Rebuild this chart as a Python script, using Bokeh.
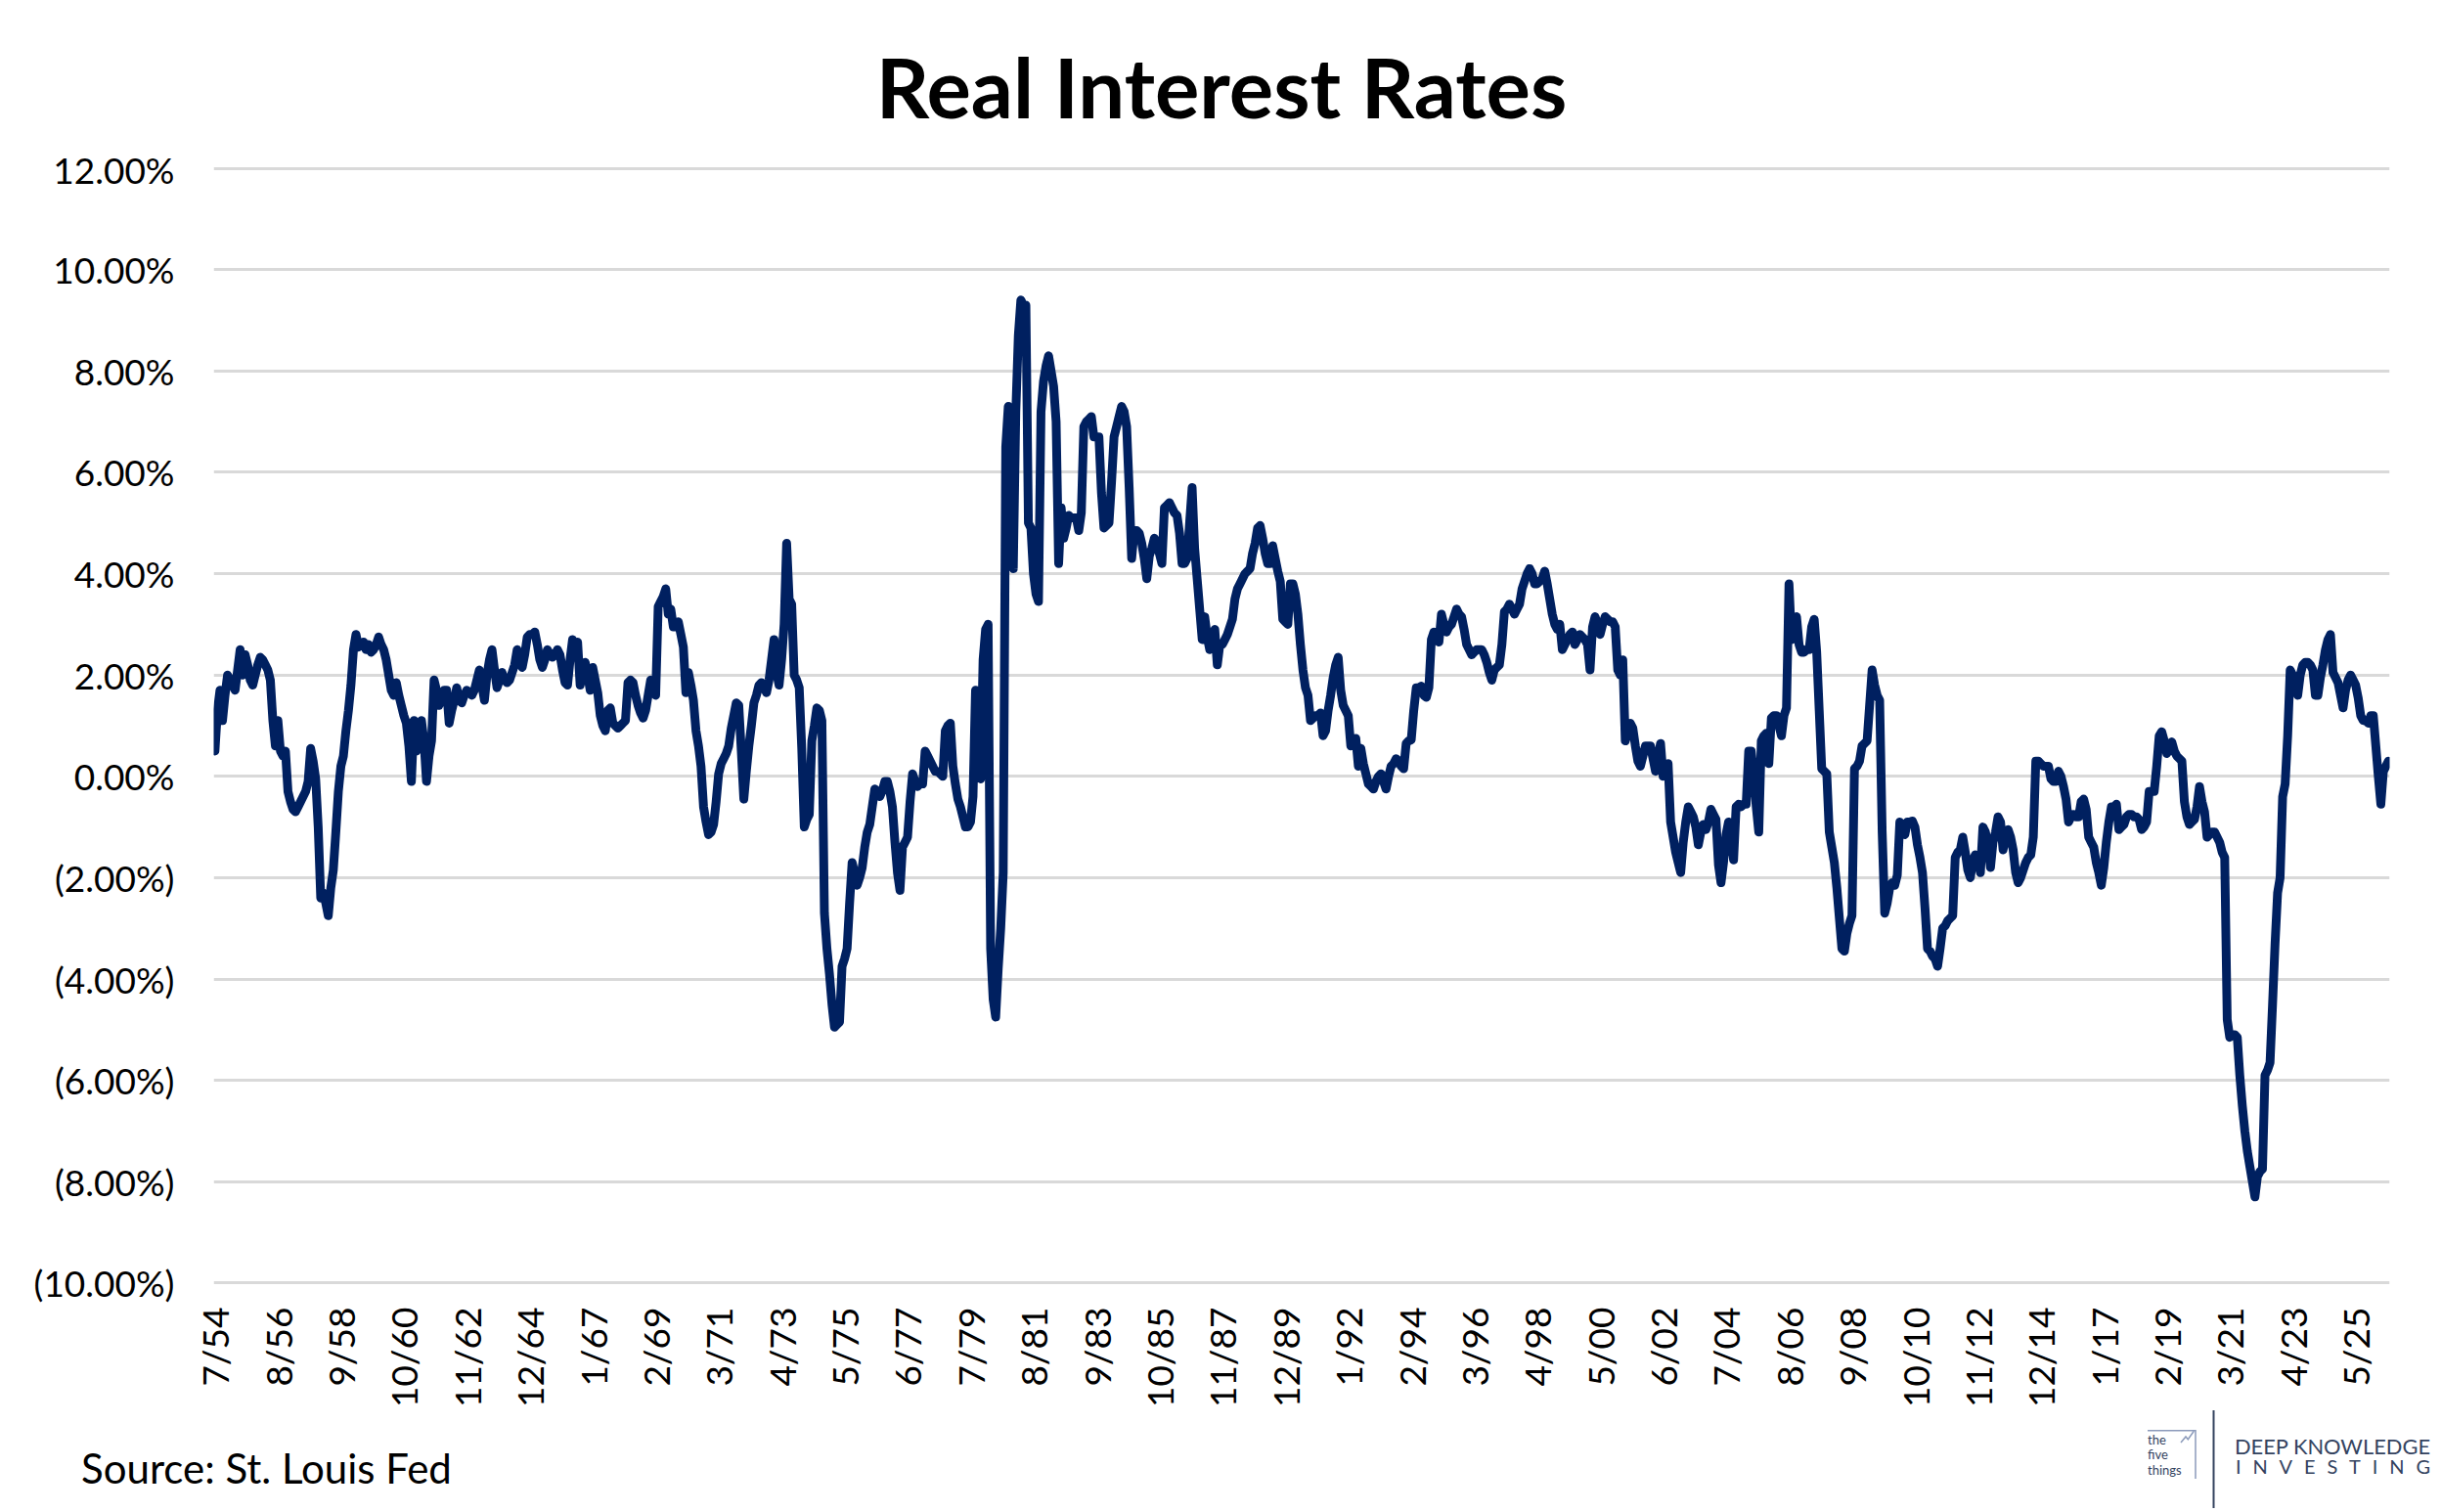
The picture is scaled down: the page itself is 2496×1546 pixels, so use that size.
import math

from bokeh.plotting import figure
from bokeh.layouts import column
from bokeh.embed import file_html
from bokeh.resources import INLINE
from bokeh.models import ColumnDataSource, FixedTicker, Range1d, Div

# Real interest rate (%), monthly from 7/54
real_rate = [
    0.5, 1.3, 1.7, 1.1, 1.6, 2.0,                                          # 1954 (Jul-Dec)
    1.9, 1.8, 1.7, 2.1, 2.5, 2.0, 2.4, 2.2, 1.9, 1.8, 2.0, 2.2,            # 1955
    2.35, 2.3, 2.2, 2.1, 1.9, 1.1, 0.6, 1.1, 0.5, 0.4, 0.5, -0.3,          # 1956
    -0.5, -0.65, -0.7, -0.6, -0.5, -0.4, -0.3, -0.1, 0.55, 0.3, -0.05, -1.0,
    -2.4, -2.3, -2.5, -2.75, -2.2, -1.85, -1.1, -0.3, 0.2, 0.4, 0.9, 1.3,  # 1958
    1.8, 2.5, 2.8, 2.55, 2.6, 2.65, 2.5, 2.6, 2.45, 2.5, 2.6, 2.75,
    2.6, 2.5, 2.3, 2.0, 1.7, 1.6, 1.85, 1.6, 1.4, 1.2, 1.05, 0.6,          # 1960
    -0.1, 1.1, 0.5, 0.6, 1.1, 0.7, -0.1, 0.4, 0.7, 1.9, 1.7, 1.4,
    1.6, 1.7, 1.7, 1.05, 1.3, 1.5, 1.75, 1.5, 1.45, 1.6, 1.7, 1.65,
    1.6, 1.7, 1.9, 2.1, 1.8, 1.5, 2.0, 2.3, 2.5, 2.1, 1.75, 1.9,
    2.05, 1.9, 1.85, 1.9, 2.05, 2.2, 2.5, 2.3, 2.15, 2.4, 2.75, 2.8,       # 1964
    2.8, 2.85, 2.6, 2.3, 2.15, 2.3, 2.5, 2.4, 2.35, 2.4, 2.5, 2.4,
    2.1, 1.85, 1.8, 2.3, 2.7, 2.55, 2.65, 1.8, 2.0, 2.25, 2.0, 1.7,
    2.15, 1.9, 1.65, 1.2, 1.0, 0.9, 1.3, 1.35, 1.05, 1.0, 0.95, 1.0,
    1.05, 1.1, 1.85, 1.9, 1.85, 1.6, 1.4, 1.25, 1.15, 1.3, 1.6, 1.9,       # 1968
    1.75, 1.6, 3.35, 3.45, 3.55, 3.7, 3.2, 3.3, 2.95, 2.95, 3.05, 2.8,
    2.55, 1.65, 2.05, 1.8, 1.5, 0.9, 0.6, 0.2, -0.6, -0.9, -1.15, -1.1,    # 1970
    -0.95, -0.5, 0.05, 0.25, 0.35, 0.45, 0.6, 0.95, 1.2, 1.45, 1.4, 0.5,
    -0.45, 0.1, 0.6, 1.0, 1.45, 1.6, 1.8, 1.85, 1.75, 1.65, 1.9, 2.3,
    2.7, 2.05, 1.8, 2.3, 3.0, 4.6, 3.5, 3.4, 2.0, 1.9, 1.75, 0.55,         # 1973
    -1.0, -0.85, -0.75, 0.7, 1.0, 1.35, 1.3, 1.1, -2.7, -3.4, -3.9, -4.5,
    -4.95, -4.9, -4.85, -3.75, -3.6, -3.4, -2.5, -1.7, -1.9, -2.15, -2.0, -1.8,
    -1.4, -1.1, -0.95, -0.6, -0.25, -0.3, -0.4, -0.28, -0.1, -0.1, -0.3, -0.6,
    -1.3, -1.9, -2.25, -1.4, -1.3, -1.2, -0.5, 0.05, -0.1, -0.2, -0.15, -0.15,
    0.5, 0.4, 0.3, 0.2, 0.1, 0.1, 0.05, 0.0, 0.9, 1.0, 1.05, 0.2,          # 1978
    -0.15, -0.45, -0.6, -0.8, -1.0, -1.0, -0.9, -0.4, 1.7, 0.5, -0.05, 2.3,
    2.9, 3.0, -3.4, -4.4, -4.75, -3.8, -3.0, -1.9, 6.5, 7.3, 5.5, 4.1,     # 1980
    7.2, 8.7, 9.4, 9.3, 9.3, 5.0, 4.9, 4.0, 3.6, 3.45, 7.2, 7.8,
    8.1, 8.3, 8.0, 7.7, 7.0, 4.2, 5.3, 4.7, 4.9, 5.15, 5.1, 5.1,
    5.1, 4.85, 5.2, 6.9, 7.0, 7.05, 7.1, 6.7, 6.7, 6.7, 5.6, 4.9,
    4.95, 5.0, 5.8, 6.7, 6.9, 7.1, 7.3, 7.2, 6.9, 5.7, 4.3, 4.85,          # 1984
    4.85, 4.8, 4.6, 4.3, 3.9, 4.35, 4.5, 4.7, 4.6, 4.4, 4.2, 5.3,
    5.35, 5.4, 5.3, 5.2, 5.15, 4.8, 4.2, 4.2, 4.3, 5.0, 5.7, 4.5,
    3.9, 3.3, 2.7, 3.15, 2.75, 2.5, 2.7, 2.9, 2.2, 2.6, 2.6, 2.7,
    2.8, 2.95, 3.1, 3.5, 3.7, 3.8, 3.9, 4.0, 4.05, 4.1, 4.4, 4.6,          # 1988
    4.9, 4.95, 4.7, 4.4, 4.2, 4.2, 4.55, 4.3, 4.05, 3.85, 3.1, 3.05,
    3.0, 3.8, 3.8, 3.6, 3.2, 2.6, 2.1, 1.75, 1.6, 1.1, 1.15, 1.2,          # 1990
    1.2, 1.25, 0.8, 0.9, 1.3, 1.6, 1.95, 2.2, 2.35, 1.7, 1.4, 1.3,
    1.2, 0.6, 0.7, 0.75, 0.2, 0.55, 0.25, 0.05, -0.15, -0.2, -0.25, -0.1,
    0.0, 0.05, -0.1, -0.25, 0.0, 0.2, 0.25, 0.35, 0.3, 0.2, 0.15, 0.65,
    0.7, 0.72, 1.3, 1.75, 1.75, 1.78, 1.6, 1.56, 1.75, 2.7, 2.85, 2.75,    # 1994
    2.65, 3.2, 3.0, 2.85, 2.95, 3.0, 3.15, 3.3, 3.2, 3.15, 2.9, 2.6,
    2.5, 2.4, 2.45, 2.5, 2.5, 2.5, 2.4, 2.25, 2.05, 1.9, 2.1, 2.15,
    2.2, 2.6, 3.25, 3.3, 3.4, 3.3, 3.2, 3.3, 3.4, 3.7, 3.85, 4.0,
    4.1, 4.0, 3.8, 3.8, 3.85, 3.9, 4.05, 3.8, 3.5, 3.2, 3.0, 2.9,          # 1998
    3.0, 2.5, 2.6, 2.7, 2.8, 2.85, 2.6, 2.7, 2.8, 2.75, 2.7, 2.6,
    2.1, 2.95, 3.15, 3.0, 2.8, 3.0, 3.15, 3.1, 3.05, 3.05, 2.95, 2.1,      # 2000
    2.0, 2.3, 0.7, 0.9, 1.05, 0.95, 0.6, 0.3, 0.2, 0.4, 0.6, 0.6,
    0.6, 0.35, 0.1, 0.4, 0.65, 0.0, 0.1, 0.25, -0.9, -1.2, -1.5, -1.7,
    -1.9, -1.3, -0.9, -0.6, -0.7, -0.8, -1.0, -1.35, -1.1, -0.95, -1.05, -0.9,
    -0.65, -0.75, -0.85, -1.75, -2.1, -1.7, -1.15, -0.9, -1.2, -1.65, -0.6, -0.55,
    -0.6, -0.55, -0.55, 0.5, 0.5, 0.0, -0.6, -1.1, 0.7, 0.8, 0.85, 0.25,   # 2005
    1.15, 1.2, 1.2, 1.0, 0.8, 1.2, 1.35, 3.8, 2.7, 3.0, 3.15, 2.6,
    2.45, 2.45, 2.5, 2.5, 2.95, 3.1, 2.45, 1.3, 0.15, 0.1, 0.05, -1.1,
    -1.4, -1.7, -2.2, -2.8, -3.4, -3.45, -3.1, -2.9, -2.75, 0.15, 0.2, 0.3,
    0.6, 0.65, 0.7, 1.4, 2.1, 1.8, 1.6, 1.5, -1.1, -2.7, -2.5, -2.2,       # 2009
    -2.1, -2.15, -1.95, -0.9, -1.0, -1.15, -0.9, -0.9, -0.88, -1.0, -1.35, -1.6,
    -1.9, -2.6, -3.4, -3.45, -3.55, -3.6, -3.75, -3.4, -3.0, -2.95, -2.85, -2.8,
    -2.75, -1.6, -1.5, -1.45, -1.2, -1.5, -1.85, -2.0, -1.65, -1.55, -1.6, -1.9,
    -1.0, -1.1, -1.35, -1.8, -1.3, -1.1, -0.8, -0.9, -1.45, -1.2, -1.05, -1.2,
    -1.45, -1.9, -2.1, -2.0, -1.85, -1.7, -1.6, -1.55, -1.2, 0.3, 0.3, 0.25,  # 2014
    0.2, 0.2, 0.2, -0.05, -0.1, -0.1, 0.1, 0.0, -0.2, -0.45, -0.9, -0.8,
    -0.75, -0.8, -0.8, -0.5, -0.45, -0.65, -1.2, -1.3, -1.4, -1.7, -1.9, -2.15,
    -1.8, -1.3, -0.9, -0.6, -0.6, -0.55, -1.05, -1.0, -0.95, -0.8, -0.75, -0.75,
    -0.8, -0.8, -0.85, -1.05, -1.0, -0.9, -0.3, -0.3, -0.3, 0.2, 0.8, 0.88,  # 2018
    0.7, 0.45, 0.55, 0.68, 0.5, 0.4, 0.35, 0.3, -0.5, -0.8, -0.95, -0.9,
    -0.85, -0.6, -0.2, -0.5, -0.7, -1.2, -1.15, -1.1, -1.1, -1.2, -1.3, -1.5,
    -1.6, -4.8, -5.15, -5.1, -5.1, -5.15, -5.9, -6.5, -7.0, -7.4, -7.7, -8.0,
    -8.3, -7.9, -7.8, -7.75, -5.9, -5.8, -5.65, -4.5, -3.3, -2.3, -2.0, -0.4,  # 2022
    -0.15, 0.8, 2.1, 2.0, 1.95, 1.6, 2.0, 2.2, 2.25, 2.25, 2.2, 2.1,
    1.6, 1.6, 1.95, 2.2, 2.5, 2.7, 2.8, 2.05, 1.95, 1.85, 1.6, 1.35,
    1.7, 1.9, 2.0, 1.9, 1.8, 1.55, 1.2, 1.1, 1.1, 1.05, 1.2, 1.2,
    0.6, 0.0, -0.55, 0.1, 0.2, 0.3,
]

# category labels, one every 25 months
x_tick_labels = [
    "7/54", "8/56", "9/58", "10/60", "11/62", "12/64", "1/67", "2/69", "3/71",
    "4/73", "5/75", "6/77", "7/79", "8/81", "9/83", "10/85", "11/87", "12/89",
    "1/92", "2/94", "3/96", "4/98", "5/00", "6/02", "7/04", "8/06", "9/08",
    "10/10", "11/12", "12/14", "1/17", "2/19", "3/21", "4/23", "5/25",
]
label_step = 25

y_ticks = [-10, -8, -6, -4, -2, 0, 2, 4, 6, 8, 10, 12]
y_tick_labels = [
    "(10.00%)", "(8.00%)", "(6.00%)", "(4.00%)", "(2.00%)", "0.00%",
    "2.00%", "4.00%", "6.00%", "8.00%", "10.00%", "12.00%",
]

TITLE = "Real Interest Rates"
SOURCE = "Source: St. Louis Fed"

COLORS = {
    "line": "#002060",
    "grid": "#d9d9d9",
    "text": "#000000",
    "logo": "#34435f",
    "logo_light": "#8c9bbb",
}
FONT = "Lato"
W = 2496


def _font(size, weight="normal"):
    # inline style so the page css cannot override the family
    return f"style=\"font-family:'{FONT}';font-size:{size}px;font-weight:{weight}\""


# ---- title strip (page y 0-150)
title_div = Div(
    width=W, height=150, margin=0,
    text=(
        f'<svg width="{W}" height="150" style="display:block">'
        f'<text x="1249" y="120.7" text-anchor="middle" {_font(85, "bold")} '
        f'fill="{COLORS["text"]}">{TITLE}</text>'
        '</svg>'
    ),
)

# ---- main chart (page y 150-1442)
n = len(real_rate)
src = ColumnDataSource(data=dict(x=list(range(n)), rate=real_rate))

p = figure(
    width=W, height=1292,
    output_backend="svg", toolbar_location=None, tools="",
    x_range=Range1d(-0.5, n - 0.5),
    y_range=Range1d(-10.05, 12.05),
    min_border_left=218, min_border_right=53,
    min_border_top=19, min_border_bottom=125,
)
p.outline_line_color = None
p.background_fill_color = "white"
p.border_fill_color = "white"

p.xgrid.visible = False
p.ygrid.grid_line_color = COLORS["grid"]
p.ygrid.grid_line_width = 3
p.ygrid.ticker = FixedTicker(ticks=y_ticks)

p.yaxis.ticker = FixedTicker(ticks=y_ticks)
p.yaxis.major_label_overrides = dict(zip(y_ticks, y_tick_labels))
p.xaxis.ticker = FixedTicker(ticks=[i * label_step for i in range(len(x_tick_labels))])
p.xaxis.major_label_overrides = {i * label_step: t for i, t in enumerate(x_tick_labels)}
p.xaxis.major_label_orientation = math.pi / 2

for ax in (p.xaxis, p.yaxis):
    ax.axis_line_color = None
    ax.major_tick_line_color = None
    ax.minor_tick_line_color = None
    ax.major_tick_out = 0
    ax.major_tick_in = 0
    ax.major_label_text_font = FONT
    ax.major_label_text_font_size = "37px"
    ax.major_label_text_color = COLORS["text"]
p.yaxis.major_label_standoff = 40
p.xaxis.major_label_standoff = 22

p.line("x", "rate", source=src, line_color=COLORS["line"], line_width=9,
       line_join="round", line_cap="round")

# ---- source + logo strip (page y 1442-1544)
logo = COLORS["logo"]
light = COLORS["logo_light"]
footer_div = Div(
    width=W, height=102, margin=0,
    text=(
        f'<svg width="{W}" height="102" style="display:block">'
        f'<text x="83" y="74.7" {_font(42)} fill="{COLORS["text"]}">{SOURCE}</text>'
        f'<text {_font(13)} fill="{logo}">'
        '<tspan x="2196" y="34.6">the</tspan>'
        '<tspan x="2196" y="50.2">five</tspan>'
        '<tspan x="2196" y="65.8">things</tspan></text>'
        f'<polyline points="2196,20.7 2245,20.7 2245,70" fill="none" stroke="{light}" stroke-width="1.5"/>'
        f'<polyline points="2230,33 2235,27 2237.3,29.7 2243.3,21.3" fill="none" stroke="{light}" stroke-width="1.5"/>'
        f'<line x1="2263.5" y1="0" x2="2263.5" y2="100" stroke="{logo}" stroke-width="2"/>'
        f'<text x="2285" y="44.7" {_font(21)} fill="{logo}" textLength="200" '
        'lengthAdjust="spacingAndGlyphs">DEEP KNOWLEDGE</text>'
        f'<text x="2286" y="65.3" {_font(20)} fill="{logo}" textLength="199" '
        'lengthAdjust="spacing">INVESTING</text>'
        '</svg>'
    ),
)

layout = column(title_div, p, footer_div, spacing=0)
open("out.html", "w").write(file_html(layout, INLINE))
